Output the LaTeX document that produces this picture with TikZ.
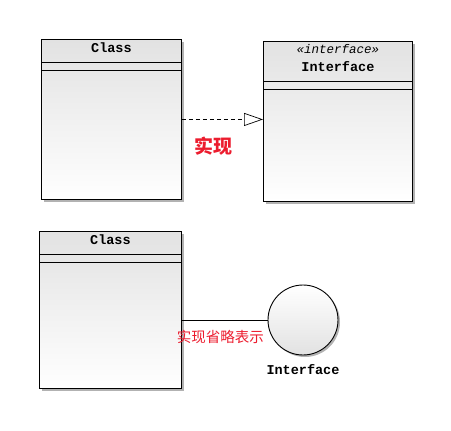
\documentclass[tikz,border=0pt]{standalone}
\usepackage{fontspec}
\setmonofont{Liberation Mono}
\newfontfamily\cjk{Noto Sans CJK SC}
\usepackage{tikz}
\usetikzlibrary{arrows.meta, positioning, shadows}

\definecolor{umlgray}{RGB}{226,226,226}
\definecolor{umlred}{RGB}{236,28,46}

\begin{document}
\begin{tikzpicture}[
    x=1pt, y=-1pt,
    classbox/.style={draw, line width=0.9pt, anchor=north west, inner sep=0pt,
                     top color=umlgray, bottom color=white,
                     drop shadow={shadow xshift=2.5pt, shadow yshift=-2.5pt,
                                  opacity=0.3, fill=black}},
    lollipop/.style={draw, circle, line width=0.9pt, minimum size=70pt,
                     top color=white, bottom color=umlgray,
                     drop shadow={shadow xshift=2pt, shadow yshift=-2pt,
                                  opacity=0.3, fill=black}},
    title/.style={font=\fontsize{13.5}{14}\selectfont\ttfamily\bfseries, inner sep=0pt},
    stereo/.style={font=\fontsize{12.5}{13}\selectfont\ttfamily\itshape, inner sep=0pt},
    note/.style={text=umlred, inner sep=0pt},
    realize/.style={dashed, dash pattern=on 4pt off 3pt, line width=0.7pt,
                    -{Triangle[length=19pt, width=13pt, fill=white, line width=0.7pt]}},
    compline/.style={line width=0.9pt}
]
\useasboundingbox (0,0) rectangle (451,431);

% class realizing an interface
\node[classbox, minimum width=140pt, minimum height=160pt] (cls1) at (41,39) {};
\node[title, below=4pt of cls1.north] (cls1t) {Class};
\draw[compline] (cls1.north west) ++(0,23) -- ++(140,0);
\draw[compline] (cls1.north west) ++(0,31) -- ++(140,0);

\node[classbox, minimum width=149pt, minimum height=160pt] (iface) at (263,41) {};
\node[stereo, below=3pt of iface.north] (ifaces) {«interface»};
\node[title, below=8pt of ifaces] (ifacet) {Interface};
\draw[compline] (iface.north west) ++(0,40) -- ++(149,0);
\draw[compline] (iface.north west) ++(0,48) -- ++(149,0);

\draw[realize] (cls1.east) -- (cls1.east -| iface.west)
    node[note, pos=0.39, below=17pt, font=\cjk\bfseries\fontsize{19}{20}\selectfont] (lbl1) {实现};

% short form
\node[classbox, minimum width=142pt, minimum height=157pt] (cls2) at (39,231) {};
\node[title, below=4pt of cls2.north] (cls2t) {Class};
\draw[compline] (cls2.north west) ++(0,23) -- ++(142,0);
\draw[compline] (cls2.north west) ++(0,31) -- ++(142,0);

\node[lollipop] (iface2) at (303,320) {};
\node[title, below=9pt of iface2] (iface2t) {Interface};

\draw[line width=0.7pt] (cls2.east |- iface2.west) -- (iface2.west)
    node[note, pos=0.45, below=10pt, font=\cjk\fontsize{14.5}{15}\selectfont] (lbl2) {实现省略表示};
\end{tikzpicture}
\end{document}
